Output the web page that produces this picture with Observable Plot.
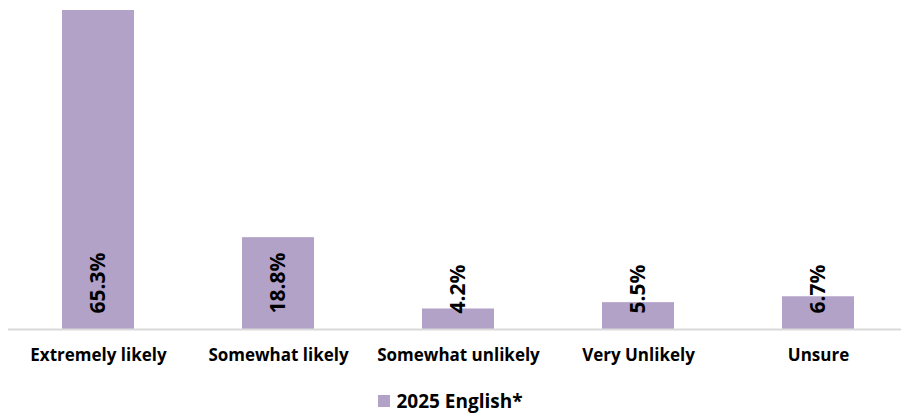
<!DOCTYPE html>
<html>
<head>
<meta charset="utf-8">
<script src="https://cdn.jsdelivr.net/npm/d3@7"></script>
<script src="https://cdn.jsdelivr.net/npm/@observablehq/plot@0.6"></script>
<style>
  html, body { margin: 0; padding: 0; background: #fff; }
  body { width: 901px; height: 414px; overflow: hidden; font-family: "Open Sans", sans-serif; }
  #legend { display: flex; justify-content: center; align-items: center; height: 28px; font-weight: bold; font-size: 19px; color: #000; margin-top: 7px; }
  #legend .sw { width: 12px; height: 12px; background: #b3a2c7; margin-right: 6px; }
</style>
</head>
<body>
<div id="chart"></div>
<div id="legend"><span class="sw"></span><span id="legtext"></span></div>
<script>
const categories = ["Extremely likely", "Somewhat likely", "Somewhat unlikely", "Very Unlikely", "Unsure"];
const values = [65.3, 18.8, 4.2, 5.5, 6.7];
const seriesName = "2025 English*";
const barColor = "#b3a2c7";

const data = categories.map((c, i) => ({category: c, value: values[i]}));

const chart = Plot.plot({
  width: 901,
  height: 380,
  marginTop: 10,
  marginBottom: 51,
  marginLeft: 8,
  marginRight: 0,
  style: {fontFamily: "'Open Sans', sans-serif", background: "#fff"},
  x: {domain: categories, range: [8, 908], paddingInner: 0.6, paddingOuter: 0.3, label: null},
  y: {domain: [0, 65.3], axis: null},
  marks: [
    Plot.barY(data, {x: "category", y: "value", fill: barColor}),
    Plot.ruleY([0], {stroke: "#d9d9d9", strokeWidth: 2}),
    Plot.text(data, {
      x: "category", y: () => 0, text: d => d.value.toFixed(1) + "%",
      rotate: -90, textAnchor: "start", lineAnchor: "middle",
      dy: -16, fontSize: 21, fontWeight: "bold", fill: "#000"
    }),
    Plot.axisX({tickSize: 0, tickPadding: 19, fontSize: 17, fontWeight: "bold", color: "#000", label: null})
  ]
});
document.getElementById("chart").appendChild(chart);
document.getElementById("legtext").textContent = seriesName;
</script>
</body>
</html>
